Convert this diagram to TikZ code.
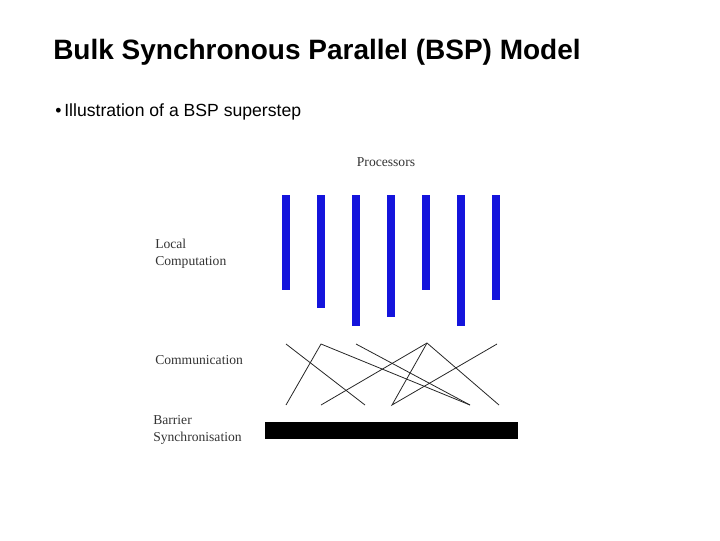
\documentclass[tikz,border=0pt]{standalone}
\usepackage{fontspec}
\setmainfont{Liberation Serif}
\setsansfont{Liberation Sans}
\usetikzlibrary{positioning}
\definecolor{barColor}{RGB}{20,20,220}
\tikzstyle{procBar} = [fill=barColor, draw=none, minimum width=8*0.75pt, inner sep=0pt, anchor=north]
\tikzstyle{sideLabel} = [font=\fontsize{10.2}{12.5}\selectfont, text=black!80, anchor=west, align=left, inner sep=0pt]
\tikzstyle{commLine} = [color=black!85, line width=0.6pt]
\begin{document}
\begin{tikzpicture}[x=0.75pt, y=-0.75pt]
  \useasboundingbox (0,0) rectangle (720,540);
  % headings
  \node [anchor=west, inner sep=0pt, font=\sffamily\bfseries\fontsize{21}{24}\selectfont] (title) at (53,52) {Bulk Synchronous Parallel (BSP) Model};
  \node [anchor=west, inner sep=0pt, font=\sffamily\fontsize{13.2}{15}\selectfont] (bullet) at (55,112) {\textbullet\,Illustration of a BSP superstep};
  % labels
  \node [sideLabel, anchor=center] (procs) at (386,162) {Processors};
  \node [sideLabel] (local) at (155,254) {Local\\Computation};
  \node [sideLabel] (comm) at (155,360) {Communication};
  \node [sideLabel] (barrier) at (153,430) {Barrier\\Synchronisation};
  % processors
  \foreach \i/\x/\len in {1/286/95, 2/321/113, 3/356/131, 4/391/122, 5/426/95, 6/461/131, 7/496/105} {
    \node [procBar, minimum height=\len*0.75pt] (p\i) at (\x,195) {};
  }
  % communication
  \foreach \n/\x/\y in {t1/286/344, t2/321/344, t3/356/344, t4/427/343, t5/497/344,
                        b1/286/405, b2/321/405, b3/365/405, b4/392/405, b5/470/405, b6/499/405} {
    \coordinate (\n) at (\x,\y);
  }
  \draw [commLine] (t1) -- (b3);
  \draw [commLine] (b1) -- (t2) -- (b5);
  \draw [commLine] (t3) -- (b5);
  \draw [commLine] (b2) -- (t4) -- (b6);
  \draw [commLine] (t4) -- (b4) -- (t5);
  % barrier
  \fill [black] (265,422) rectangle (518,439);
\end{tikzpicture}
\end{document}
